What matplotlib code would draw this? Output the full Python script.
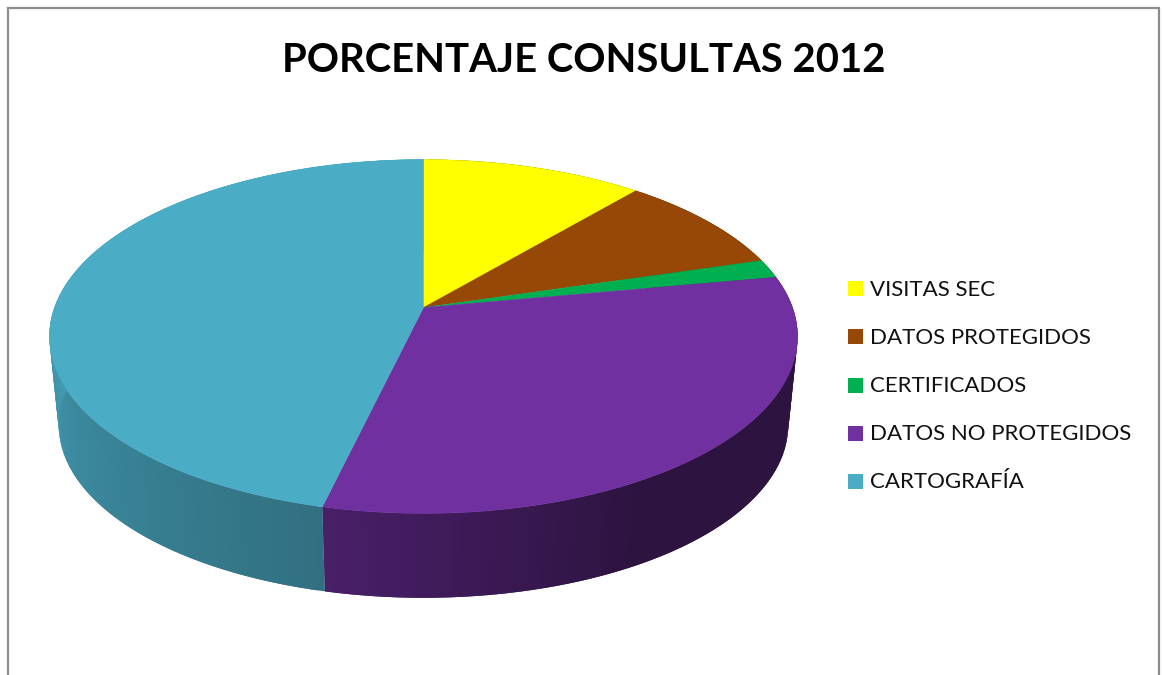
import numpy as np
import matplotlib
matplotlib.use('Agg')
import matplotlib.pyplot as plt
from matplotlib.patches import Rectangle

title = 'PORCENTAJE CONSULTAS 2012'
categories = ['VISITAS SEC', 'DATOS PROTEGIDOS', 'CERTIFICADOS', 'DATOS NO PROTEGIDOS', 'CARTOGRAFÍA']
values = [11.2, 9.2, 1.7, 31.6, 46.3]
colors = ['#ffff00', '#974706', '#00b050', '#7030a0', '#4bacc6']

plt.rcParams['font.family'] = ['Lato', 'DejaVu Sans']

# perspective of the pie, in pixels
CX = 423.5
TOP_Y = 307.5
LOW_Y = 397
LOW_S = 0.975
A, B, K = 172.2, 369.0, 0.1638


def project(theta, y0, s):
    # theta clockwise from 12 o'clock, radians
    u, v = np.sin(theta), np.cos(theta)
    w = 1 + K * v
    return CX + s * B * u / w, y0 - s * A * v / w


def shade(deg):
    # darker towards the lower right side of the wall
    return np.interp(deg, [90, 150, 193, 275], [0.40, 0.40, 0.65, 0.90])


def darken(col, f):
    return tuple(c * f for c in matplotlib.colors.to_rgb(col))


fig = plt.figure(figsize=(11.63, 6.75), dpi=100)
ax = fig.add_axes([0, 0, 1, 1])
ax.set_xlim(0, 1163)
ax.set_ylim(675, 0)
ax.axis('off')

# outer frame, open at the bottom
ax.plot([7.5, 7.5, 1159, 1159], [675, 8, 8, 675], color='#8c8c8c', lw=1.6, solid_joinstyle='miter')

edges = np.radians(np.cumsum([0] + values) * 3.6)

# side wall first, the top faces cover whatever is at the back
for i in range(len(values)):
    start, end = edges[i], edges[i + 1]
    n = max(2, int(np.degrees(end - start)))
    t = np.linspace(start, end, n + 1)
    xt, yt = project(t, TOP_Y, 1)
    xb, yb = project(t, LOW_Y, LOW_S)
    for j in range(n):
        # each strip runs under the next one so no seams show
        k = min(j + 2, n)
        col = darken(colors[i], shade(np.degrees((t[j] + t[j + 1]) / 2)))
        ax.fill([xt[j], xt[j + 1], xt[k], xb[k], xb[j + 1], xb[j]],
                [yt[j], yt[j + 1], yt[k], yb[k], yb[j + 1], yb[j]],
                facecolor=col, edgecolor='none')

# top faces
for i in range(len(values)):
    t = np.linspace(edges[i], edges[i + 1], 200)
    x, y = project(t, TOP_Y, 1)
    ax.fill(np.r_[CX, x], np.r_[TOP_Y, y], color=colors[i], lw=0.3)

ax.text(584, 60, title, fontsize=28.8, fontweight='bold', color='black', ha='center', va='center')

# legend
leg_y = [289, 337, 386, 434, 482]
for name, col, y in zip(categories, colors, leg_y):
    ax.add_patch(Rectangle((848, y - 8), 15, 15, facecolor=col, edgecolor='none'))
    ax.text(870, y + 0.5, name, fontsize=16, color='#111111', ha='left', va='center')

plt.savefig('out.png', dpi=100)
plt.close()
